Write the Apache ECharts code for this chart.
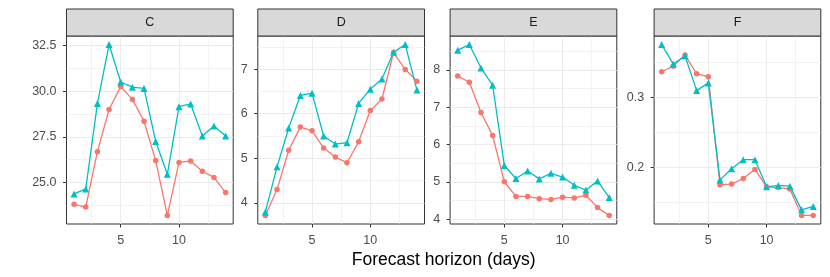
<!DOCTYPE html>
<html><head><meta charset="utf-8">
<script src="https://cdn.jsdelivr.net/npm/echarts@6/dist/echarts.min.js"></script>
<style>html,body{margin:0;padding:0;background:#fff}#c{width:830px;height:277px}</style>
</head><body><div id="c"></div>
<script>
// ---- data ----
const horizons = [1,2,3,4,5,6,7,8,9,10,11,12,13,14];
const panelNames = ['C','D','E','F'];

const redC  = [23.81, 23.66, 26.69, 29.00, 30.25, 29.55, 28.35, 26.20, 23.20, 26.10, 26.18, 25.62, 25.28, 24.45];
const tealC = [24.38, 24.65, 29.32, 32.55, 30.50, 30.22, 30.15, 27.25, 25.45, 29.15, 29.30, 27.55, 28.10, 27.55];

const redD  = [3.72, 4.30, 5.18, 5.70, 5.62, 5.23, 5.03, 4.90, 5.37, 6.07, 6.33, 7.37, 6.99, 6.73];
const tealD = [3.80, 4.81, 5.68, 6.41, 6.46, 5.50, 5.32, 5.35, 6.23, 6.55, 6.78, 7.38, 7.55, 6.53];

const redE  = [7.84, 7.67, 6.86, 6.24, 5.00, 4.61, 4.61, 4.55, 4.53, 4.59, 4.57, 4.64, 4.31, 4.10];
const tealE = [8.53, 8.68, 8.05, 7.59, 5.44, 5.09, 5.29, 5.08, 5.23, 5.13, 4.91, 4.78, 5.02, 4.58];

const redF  = [0.337, 0.345, 0.361, 0.334, 0.330, 0.175, 0.176, 0.184, 0.197, 0.172, 0.171, 0.169, 0.131, 0.131];
const tealF = [0.376, 0.348, 0.360, 0.310, 0.321, 0.182, 0.198, 0.211, 0.211, 0.172, 0.174, 0.173, 0.139, 0.144];

const yTicksC = [25, 27.5, 30, 32.5];   const yLabelsC = ['25.0','27.5','30.0','32.5'];
const yMinorC = [23.75, 26.25, 28.75, 31.25];
const yTicksD = [4, 5, 6, 7];           const yLabelsD = ['4','5','6','7'];
const yMinorD = [4.5, 5.5, 6.5, 7.5];
const yTicksE = [4, 5, 6, 7, 8];        const yLabelsE = ['4','5','6','7','8'];
const yMinorE = [4.5, 5.5, 6.5, 7.5, 8.5];
const yTicksF = [0.2, 0.3];             const yLabelsF = ['0.2','0.3'];
const yMinorF = [0.15, 0.25, 0.35];

const xTicks = [5, 10];  const xLabels = ['5','10'];
const xMinor = [2.5, 7.5, 12.5];

const xTitle = 'Forecast horizon (days)';

// ---- layout / style ----
const FONT = 'Liberation Sans, Arial, Helvetica, sans-serif';
const RED = '#F8766D', TEAL = '#00BFC4';
const panelLefts = [66.5, 257.8, 450.1, 654.1];
const panelW = 166.7, panelTop = 36, panelH = 188, stripTop = 9, stripH = 27;

const panels = [
  {name: panelNames[0], red: redC, teal: tealC, ticks: yTicksC, labels: yLabelsC, minor: yMinorC},
  {name: panelNames[1], red: redD, teal: tealD, ticks: yTicksD, labels: yLabelsD, minor: yMinorD},
  {name: panelNames[2], red: redE, teal: tealE, ticks: yTicksE, labels: yLabelsE, minor: yMinorE},
  {name: panelNames[3], red: redF, teal: tealF, ticks: yTicksF, labels: yLabelsF, minor: yMinorF}
];

function expand(vals) {
  const mn = Math.min(...vals), mx = Math.max(...vals), r = mx - mn;
  return [mn - 0.05 * r, mx + 0.05 * r];
}
function lookup(ticks, labels) {
  return v => {
    for (let i = 0; i < ticks.length; i++) if (Math.abs(ticks[i] - v) < 1e-6 * Math.max(1, Math.abs(v))) return labels[i];
    return '';
  };
}
const xLim = expand(horizons);

const grid = [], xAxis = [], yAxis = [], series = [], graphic = [];
panels.forEach((p, i) => {
  grid.push({left: panelLefts[i], top: panelTop, width: panelW, height: panelH,
    show: true, borderColor: '#333333', borderWidth: 1, backgroundColor: '#fff'});
  const yLim = expand(p.red.concat(p.teal));
  // minor axes (grid lines only)
  xAxis.push({type: 'value', gridIndex: i, min: xLim[0], max: xLim[1],
    axisLine: {show: false}, axisLabel: {show: false},
    axisTick: {show: false, customValues: xMinor},
    splitLine: {show: true, lineStyle: {color: '#EBEBEB', width: 0.6}}});
  yAxis.push({type: 'value', gridIndex: i, min: yLim[0], max: yLim[1],
    axisLine: {show: false}, axisLabel: {show: false},
    axisTick: {show: false, customValues: p.minor},
    splitLine: {show: true, lineStyle: {color: '#EBEBEB', width: 0.6}}});
  // major axes
  xAxis.push({type: 'value', gridIndex: i, min: xLim[0], max: xLim[1], position: 'bottom',
    axisLine: {show: false},
    axisTick: {show: true, length: 3.5, inside: false, customValues: xTicks, lineStyle: {color: '#333333', width: 1}},
    axisLabel: {show: true, customValues: xTicks, formatter: lookup(xTicks, xLabels),
      color: '#4D4D4D', fontSize: 12.5, fontFamily: FONT, margin: 10},
    splitLine: {show: true, lineStyle: {color: '#EBEBEB', width: 1}}});
  yAxis.push({type: 'value', gridIndex: i, min: yLim[0], max: yLim[1], position: 'left',
    axisLine: {show: false},
    axisTick: {show: true, length: 3.5, inside: false, customValues: p.ticks, lineStyle: {color: '#333333', width: 1}},
    axisLabel: {show: true, customValues: p.ticks, formatter: lookup(p.ticks, p.labels),
      color: '#4D4D4D', fontSize: 12.5, fontFamily: FONT, margin: 10},
    splitLine: {show: true, lineStyle: {color: '#EBEBEB', width: 1}}});
  const xi = 2 * i + 1, yi = 2 * i + 1;
  const pts = arr => horizons.map((h, k) => [h, arr[k]]);
  series.push({type: 'line', xAxisIndex: xi, yAxisIndex: yi, data: pts(p.red), showSymbol: false, symbol: 'none',
    lineStyle: {color: RED, width: 1.3}, z: 2, silent: true});
  series.push({type: 'line', xAxisIndex: xi, yAxisIndex: yi, data: pts(p.teal), showSymbol: false, symbol: 'none',
    lineStyle: {color: TEAL, width: 1.3}, z: 2, silent: true});
  series.push({type: 'scatter', xAxisIndex: xi, yAxisIndex: yi, data: pts(p.red), symbol: 'circle', symbolSize: 5.5,
    itemStyle: {color: RED, opacity: 1}, z: 3, silent: true});
  series.push({type: 'scatter', xAxisIndex: xi, yAxisIndex: yi, data: pts(p.teal), symbol: 'triangle', symbolSize: 7,
    itemStyle: {color: TEAL, opacity: 1}, z: 3, silent: true});
  // facet strip
  graphic.push({type: 'rect', shape: {x: panelLefts[i], y: stripTop, width: panelW, height: stripH},
    style: {fill: '#D9D9D9', stroke: '#333333', lineWidth: 1}, z: 10});
  graphic.push({type: 'text', x: panelLefts[i] + panelW / 2, y: stripTop + stripH / 2,
    style: {text: p.name, fill: '#1A1A1A', font: '12.5px ' + FONT, textAlign: 'center', textVerticalAlign: 'middle'}, z: 11});
});
const centerX = (panelLefts[0] + panelLefts[3] + panelW) / 2;
graphic.push({type: 'text', x: centerX, y: 260,
  style: {text: xTitle, fill: '#000', font: '17.5px ' + FONT, textAlign: 'center', textVerticalAlign: 'middle'}});

const chart = echarts.init(document.getElementById('c'), null, {renderer: 'canvas'});
chart.setOption({animation: false, backgroundColor: '#fff', grid, xAxis, yAxis, series, graphic});
</script></body></html>
